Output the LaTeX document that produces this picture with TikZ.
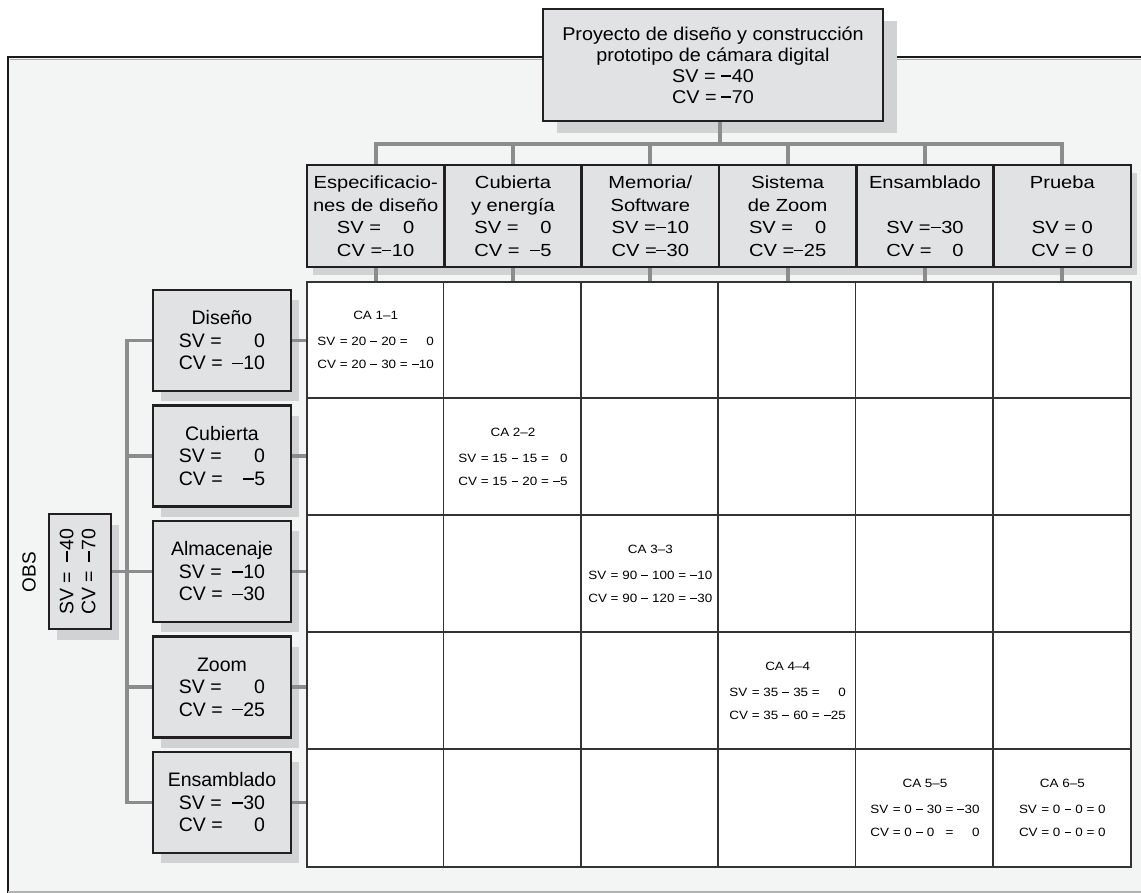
\documentclass[tikz,border=0pt]{standalone}
\usepackage{fontspec}
\usepackage{graphicx}
\setmainfont{Liberation Sans}
\newfontfamily\topf{Liberation Sans}[FakeStretch=1.07]
\newfontfamily\colf{Liberation Sans}[FakeStretch=1.15]
\newfontfamily\cellf{Liberation Sans}[FakeStretch=1.12]
\usetikzlibrary{shadows}
\definecolor{bg}{HTML}{F3F4F4}
\definecolor{boxf}{HTML}{E1E2E4}
\definecolor{shad}{HTML}{D1D2D4}
\definecolor{connc}{HTML}{8C8C8C}
\definecolor{edge}{HTML}{231F20}
\definecolor{tline}{HTML}{333333}
\newcommand{\mn}{\mbox{\kern0.03em\rule[0.3em]{0.56em}{0.07em}\kern0.03em}}
\newcommand{\sv}[2]{\makebox[2.35em][l]{#1 =}\hspace{0.12em}\makebox[1.95em][r]{#2}}
\newcommand{\cablock}[7]{\begin{tabular}{@{}l@{\ =\ }r@{\ \mn\ }l@{\ =\ }r@{}}\multicolumn{4}{@{}c@{}}{#1}\\[11.5pt]
SV&#2&#3&#4\\[8pt]
CV&#5&#6&#7\end{tabular}}
\begin{document}
\begin{tikzpicture}[x=1pt,y=-1pt,
  box/.style={draw=edge, line width=2.4pt, fill=boxf, inner sep=0pt, align=center},
  topbox/.style={box, minimum width=340pt, minimum height=112pt,
    font=\topf\fontsize{18.5}{21}\selectfont,
    general shadow={fill=shad, shadow xshift=14pt, shadow yshift=-12pt}},
  colbox/.style={box, minimum width=137.33pt, minimum height=102pt,
    font=\colf\fontsize{17.5}{22.5}\selectfont,
    general shadow={fill=shad, shadow xshift=6pt, shadow yshift=-8pt}},
  rowbox/.style={box, minimum width=138pt, minimum height=101pt,
    font=\fontsize{19.5}{22.5}\selectfont,
    general shadow={fill=shad, shadow xshift=8pt, shadow yshift=-10pt}},
  obsbox/.style={box, minimum width=62pt, minimum height=115pt,
    font=\fontsize{19.5}{22}\selectfont,
    general shadow={fill=shad, shadow xshift=8pt, shadow yshift=-11pt}},
  conn/.style={draw=connc, line width=3.8pt},
  tl/.style={draw=tline, line width=1.6pt},
  cell/.style={inner sep=0pt, font=\cellf\fontsize{12}{14.4}\selectfont}
]
\useasboundingbox (0,0) rectangle (1141,893);
% frame
\fill[bg] (8,57) rectangle (1141,893);
\draw[black!90, line width=2.6pt] (8,893) -- (8,57) -- (1141,57);
\draw[black!35, line width=1.2pt] (9.5,59.5) -- (1141,59.5);
\draw[black!30, line width=1.5pt] (8,892.2) -- (1141,892.2);

% top box
\node[topbox] (top) at (713,65) {Proyecto de diseño y construcción\\prototipo de cámara digital\\\sv{SV}{\mn40}\\\sv{CV}{\mn70}};

% column boxes
\node[colbox] (c1) at (375.67,216) {Especificacio-\\nes de diseño\\\sv{SV}{0}\\\sv{CV}{\mn10}};
\node[colbox] (c2) at (513,216) {Cubierta\\y energía\\\sv{SV}{0}\\\sv{CV}{\mn5}};
\node[colbox] (c3) at (650.33,216) {Memoria/\\Software\\\sv{SV}{\mn10}\\\sv{CV}{\mn30}};
\node[colbox] (c4) at (787.67,216) {Sistema\\de Zoom\\\sv{SV}{0}\\\sv{CV}{\mn25}};
\node[colbox] (c5) at (925,216) {Ensamblado\\\mbox{}\\\sv{SV}{\mn30}\\\sv{CV}{0}};
\node[colbox] (c6) at (1062.33,216) {Prueba\\\mbox{}\\SV = 0\\CV = 0};

% table
\node[tl, fill=white, minimum width=824pt, minimum height=585pt, inner sep=0pt] (tbl) at (719,574.5) {};
\foreach \i in {1,...,5} \draw[tl] (tbl.north west) ++(\i*137.33,0) -- ++(0,585);
\foreach \j in {1,...,4} \draw[tl] (tbl.north west) ++(0,\j*117) -- ++(824,0);

% row boxes
\node[rowbox] (r1) at (222,340.5) {Diseño\\\sv{SV}{0}\\\sv{CV}{\mn10}};
\node[rowbox] (r2) at (222,456) {Cubierta\\\sv{SV}{0}\\\sv{CV}{\mn5}};
\node[rowbox] (r3) at (222,571.5) {Almacenaje\\\sv{SV}{\mn10}\\\sv{CV}{\mn30}};
\node[rowbox] (r4) at (222,687) {Zoom\\\sv{SV}{0}\\\sv{CV}{\mn25}};
\node[rowbox] (r5) at (222,802.5) {Ensamblado\\\sv{SV}{\mn30}\\\sv{CV}{0}};

% OBS
\node[obsbox] (obs) at (80,571.5) {\rotatebox{90}{\begin{tabular}{@{}c@{}}\sv{SV}{\mn40}\\\sv{CV}{\mn70}\end{tabular}}};
\node[rotate=90, font=\fontsize{19}{22}\selectfont] (obsl) at (29,572) {OBS};

% connectors
\foreach \i in {1,...,6} {
  \draw[conn] ([xshift=7pt]top.south) -- ++(0,22) -| (c\i.north);
  \draw[conn] (c\i.south) -- (c\i.south |- tbl.north);
}
\foreach \i in {1,...,5} {
  \draw[conn] (obs.east) -- ++(15,0) |- (r\i.west);
  \draw[conn] (r\i.east) -- (r\i.east -| tbl.west);
}

% cell contents
\node[cell] (ca1) at (375.67,341) {\cablock{CA 1–1}{20}{20}{0}{20}{30}{\mn10}};
\node[cell] (ca2) at (513,458) {\cablock{CA 2–2}{15}{15}{0}{15}{20}{\mn5}};
\node[cell] (ca3) at (650.33,575) {\cablock{CA 3–3}{90}{100}{\mn10}{90}{120}{\mn30}};
\node[cell] (ca4) at (787.67,692) {\cablock{CA 4–4}{35}{35}{0}{35}{60}{\mn25}};
\node[cell] (ca5) at (925,809) {\cablock{CA 5–5}{0}{30}{\mn30}{0}{0}{0}};
\node[cell] (ca6) at (1062.33,809) {\cablock{CA 6–5}{0}{0}{0}{0}{0}{0}};
\end{tikzpicture}
\end{document}
